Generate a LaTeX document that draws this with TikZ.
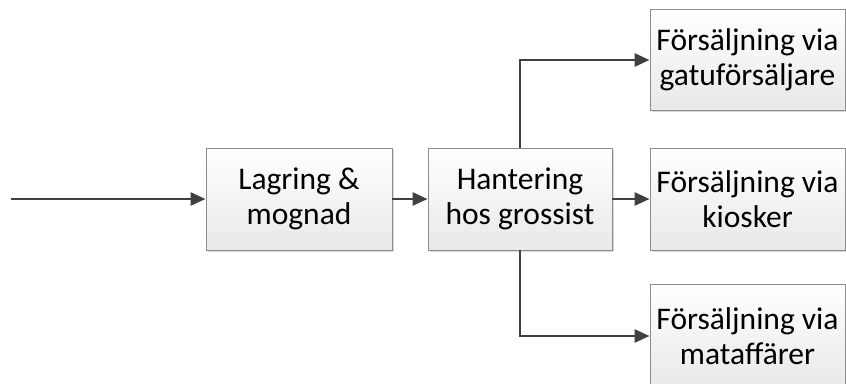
\documentclass[tikz,border=0pt]{standalone}
\usepackage{fontspec}
\setmainfont{Carlito}
\usetikzlibrary{arrows.meta,shadows}
\begin{document}
\begin{tikzpicture}[x=1pt,y=-1pt,
  box/.style={draw=black!45, line width=0.9pt, top color=white, bottom color=black!9,
    inner sep=0pt, align=center, text=black,
    font=\fontsize{31.5}{35}\selectfont,
    drop shadow={shadow xshift=1.5pt, shadow yshift=-1.5pt, opacity=0.15, fill=black}},
  conn/.style={draw=black!75, line width=2.7pt, -{Triangle[length=15pt,width=13pt]}}]
\useasboundingbox (0,0) rectangle (846,383);
\coordinate (start) at (11,199);
\node[box, minimum width=186pt, minimum height=102pt] (b1) at (299,199) {Lagring \&\\mognad};
\node[box, minimum width=184pt, minimum height=102pt] (b2) at (520,199) {Hantering\\hos grossist};
\node[box, minimum width=195pt, minimum height=101pt] (r1) at (747.5,60) {Försäljning via\\gatuförsäljare};
\node[box, minimum width=195pt, minimum height=102pt] (r2) at (747.5,199) {Försäljning via\\kiosker};
\node[box, minimum width=195pt, minimum height=104pt] (r3) at (747.5,336) {Försäljning via\\mataffärer};
\draw[conn] (start) -- (b1.west);
\draw[conn] (b1.east) -- (b2.west);
\draw[conn] (b2.east) -- (r2.west);
\draw[conn] (b2.north) |- (r1.west);
\draw[conn] (b2.south) |- (r3.west);
\end{tikzpicture}
\end{document}
